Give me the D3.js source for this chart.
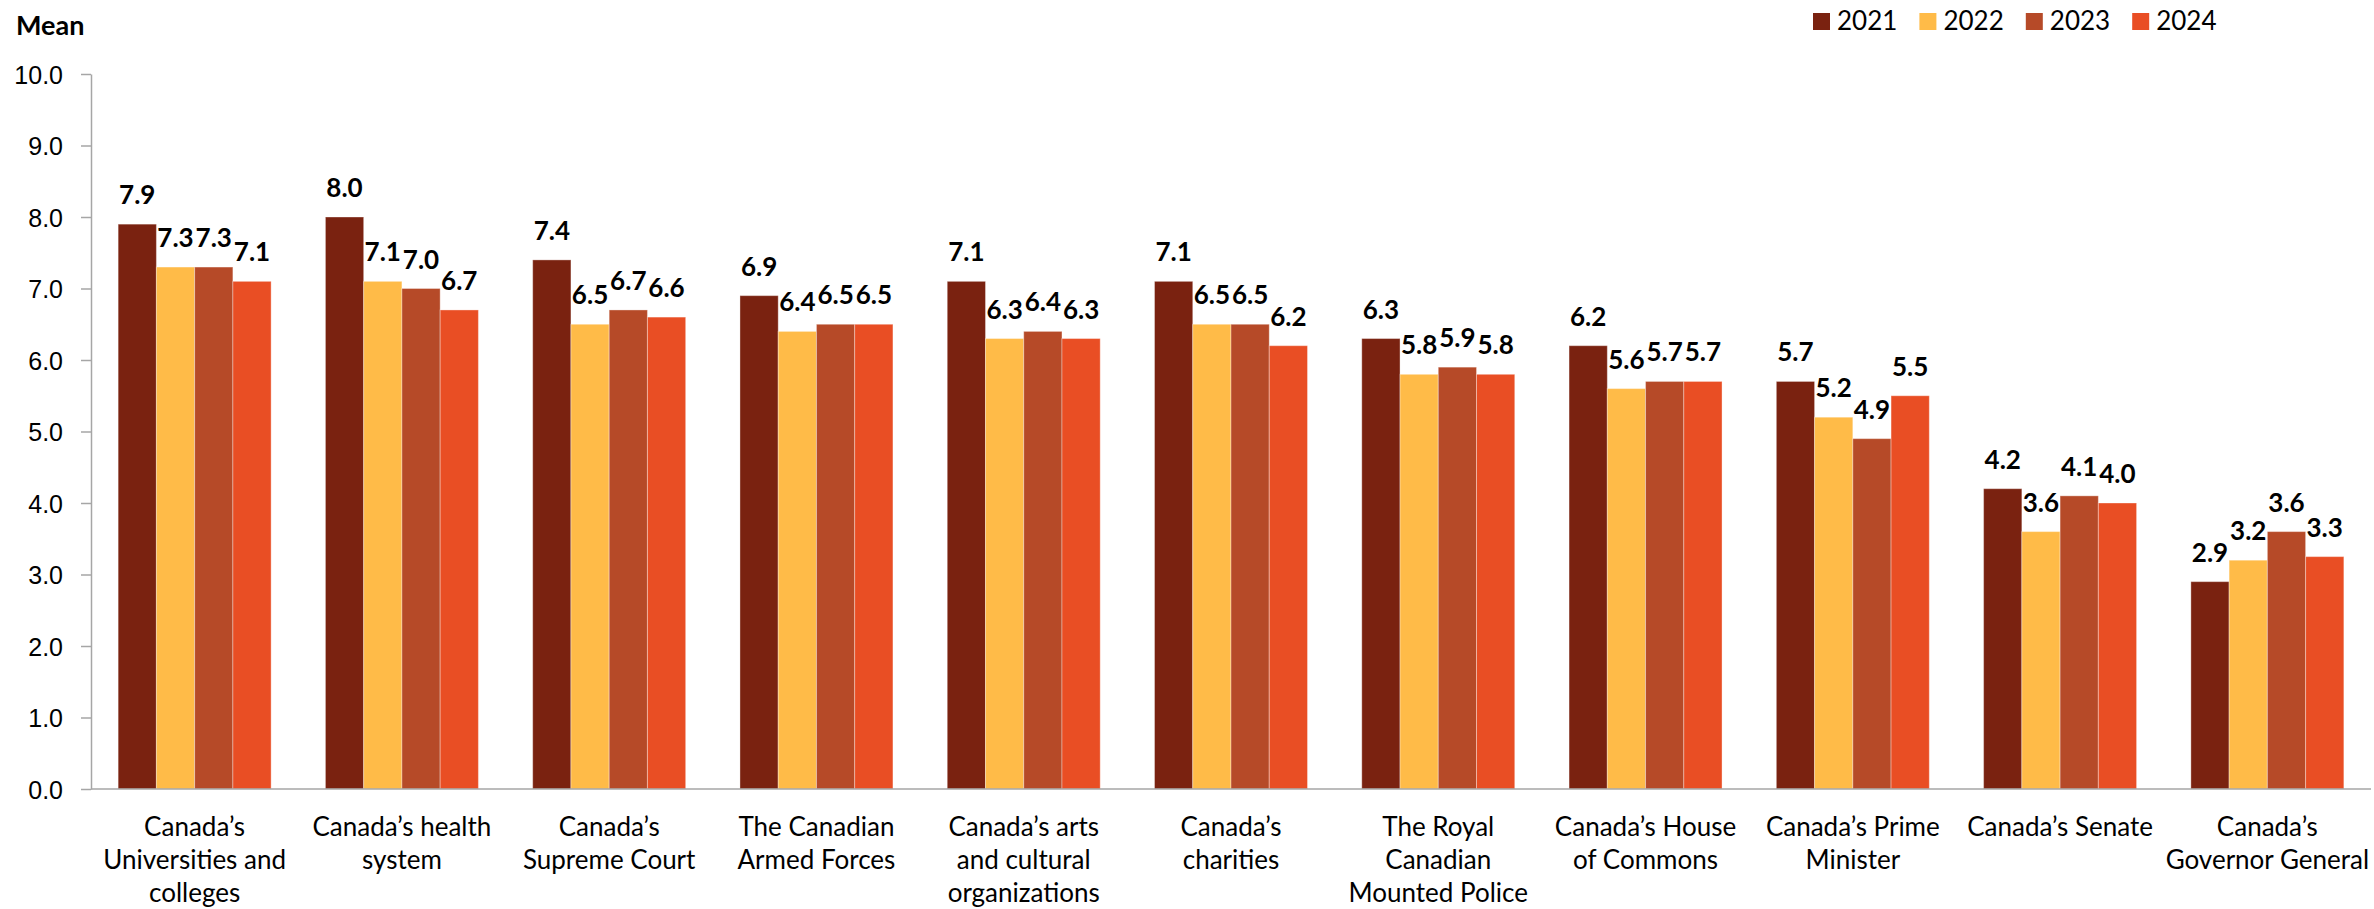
<!DOCTYPE html>
<html>
<head>
<meta charset="utf-8">
<script src="https://cdn.jsdelivr.net/npm/d3@7"></script>
<style>
  body { margin: 0; background: #ffffff; }
  svg { display: block; font-family: Lato, "Open Sans", sans-serif; }
  .tick text { font-size: 25px; fill: #000; }
  .barlabel { font-size: 26px; font-weight: bold; fill: #000; }
  .catlabel { font-size: 26px; fill: #000; }
  .legtext { font-size: 26px; fill: #000; }
</style>
</head>
<body>
<div id="chart"></div>
<script>
// chart values
var categories = [
    'Canada’s\nUniversities and\ncolleges',
    'Canada’s health\nsystem',
    'Canada’s\nSupreme Court',
    'The Canadian\nArmed Forces',
    'Canada’s arts\nand cultural\norganizations',
    'Canada’s\ncharities',
    'The Royal\nCanadian\nMounted Police',
    'Canada’s House\nof Commons',
    'Canada’s Prime\nMinister',
    'Canada’s Senate',
    'Canada’s\nGovernor General'
];
var years = ['2021', '2022', '2023', '2024'];

var v2021 = [7.9, 8.0, 7.4, 6.9, 7.1, 7.1, 6.3, 6.2, 5.7, 4.2, 2.9];
var v2022 = [7.3, 7.1, 6.5, 6.4, 6.3, 6.5, 5.8, 5.6, 5.2, 3.6, 3.2];
var v2023 = [7.3, 7.0, 6.7, 6.5, 6.4, 6.5, 5.9, 5.7, 4.9, 4.1, 3.6];
var v2024 = [7.1, 6.7, 6.6, 6.5, 6.3, 6.2, 5.8, 5.7, 5.5, 4.0, 3.25];

var yTicks = [0, 1, 2, 3, 4, 5, 6, 7, 8, 9, 10];
var colors = ['#7a2210', '#ffbb48', '#b64a28', '#e94e24'];

var series = [v2021, v2022, v2023, v2024];

var cfg = {
    w: 2374, h: 909,
    left: 91, right: 2371, top: 74, bottom: 789
};

var svg = d3.select('#chart').append('svg')
    .attr('width', cfg.w)
    .attr('height', cfg.h);

var x0 = d3.scaleBand()
    .domain(categories)
    .range([cfg.left, cfg.right])
    .paddingInner(0);

var x1 = d3.scaleBand()
    .domain(years)
    .range([0, x0.bandwidth()])
    .paddingInner(0)
    .paddingOuter(0.71);

var y = d3.scaleLinear()
    .domain([0, 10])
    .range([cfg.bottom, cfg.top]);

var color = d3.scaleOrdinal().domain(years).range(colors);

// y axis
var yAxis = svg.append('g')
    .attr('transform', 'translate(' + cfg.left + ',0)')
    .call(d3.axisLeft(y)
        .tickValues(yTicks)
        .tickFormat(d3.format('.1f'))
        .tickSize(10)
        .tickSizeOuter(0)
        .tickPadding(18));
yAxis.selectAll('line').attr('stroke', '#a6a6a6').attr('stroke-width', 1.5);
yAxis.select('.domain').attr('stroke', '#a6a6a6').attr('stroke-width', 1.5);
yAxis.selectAll('text').attr('dy', '0.36em');

// bars
var rows = categories.map(function(c, i) {
    return {
        cat: c,
        vals: years.map(function(yr, j) { return { year: yr, value: series[j][i] }; })
    };
});

var groups = svg.append('g').selectAll('g')
    .data(rows)
    .enter().append('g')
    .attr('transform', function(d) { return 'translate(' + x0(d.cat) + ',0)'; });

groups.selectAll('rect')
    .data(function(d) { return d.vals; })
    .enter().append('rect')
    .attr('x', function(d) { return x1(d.year); })
    .attr('y', function(d) { return y(d.value); })
    .attr('width', x1.bandwidth())
    .attr('height', function(d) { return y(0) - y(d.value); })
    .attr('fill', function(d) { return color(d.year); })
    .attr('stroke', 'rgba(255,255,255,0.35)')
    .attr('stroke-width', 1);

groups.selectAll('.barlabel')
    .data(function(d) { return d.vals; })
    .enter().append('text')
    .attr('class', 'barlabel')
    .attr('text-anchor', 'middle')
    .attr('x', function(d) { return x1(d.year) + x1.bandwidth() / 2; })
    .attr('y', function(d) { return y(d.value) - 20; })
    .text(function(d) { return d.value.toFixed(1); });

// x axis line
svg.append('line')
    .attr('x1', cfg.left).attr('x2', cfg.right)
    .attr('y1', y(0)).attr('y2', y(0))
    .attr('stroke', '#a6a6a6')
    .attr('stroke-width', 1.5);

// category labels
svg.append('g').selectAll('text')
    .data(categories)
    .enter().append('text')
    .attr('class', 'catlabel')
    .attr('text-anchor', 'middle')
    .attr('x', function(d) { return x0(d) + x0.bandwidth() / 2; })
    .attr('y', 836)
    .each(function(d) {
        var t = d3.select(this);
        d.split('\n').forEach(function(line, i) {
            t.append('tspan')
                .attr('x', t.attr('x'))
                .attr('dy', i === 0 ? 0 : 33)
                .text(line);
        });
    });

// axis title
svg.append('text')
    .attr('x', 16)
    .attr('y', 35)
    .attr('font-size', 27)
    .attr('font-weight', 'bold')
    .text('Mean');

// legend
var leg = svg.append('g').selectAll('g')
    .data(years)
    .enter().append('g')
    .attr('transform', function(d, i) { return 'translate(' + (1813 + i * 106.4) + ',13)'; });
leg.append('rect')
    .attr('width', 17)
    .attr('height', 17)
    .attr('fill', function(d) { return color(d); });
leg.append('text')
    .attr('class', 'legtext')
    .attr('x', 24)
    .attr('y', 17)
    .text(function(d) { return d; });
</script>
</body>
</html>
